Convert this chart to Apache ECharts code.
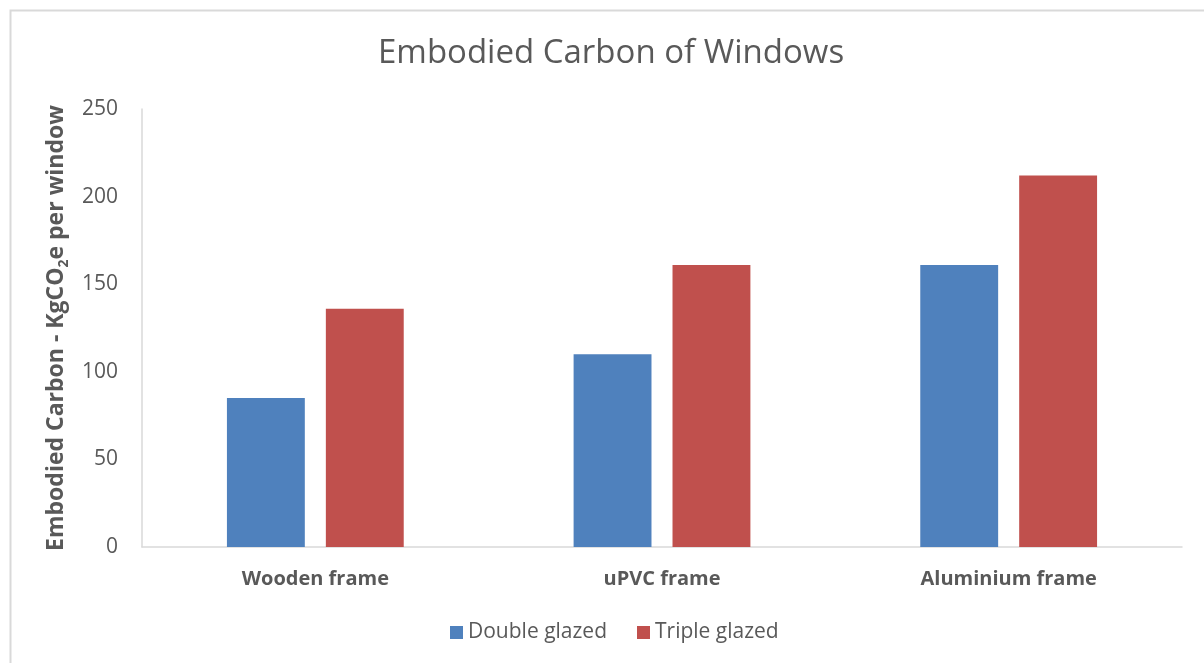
<!DOCTYPE html>
<html>
<head>
<meta charset="utf-8">
<script src="https://cdn.jsdelivr.net/npm/echarts@6/dist/echarts.min.js"></script>
<style>
html,body{margin:0;padding:0;background:#fff;}
#c{width:1204px;height:663px;}
</style>
</head>
<body>
<div id="c"></div>
<script>
var categories = ['Wooden frame', 'uPVC frame', 'Aluminium frame'];
var doubleGlazed = [85, 110, 161];
var tripleGlazed = [136, 161, 212];
var seriesNames = ['Double glazed', 'Triple glazed'];
var yTicks = { min: 0, max: 250, interval: 50 };

var FONT = '"Open Sans", sans-serif';
var TXT = '#595959';
var chart = echarts.init(document.getElementById('c'));
chart.setOption({
  animation: false,
  backgroundColor: '#fff',
  graphic: [{
    type: 'rect', left: 8, top: 8, silent: true,
    shape: { width: 1400, height: 800 },
    style: { fill: 'none', stroke: '#D9D9D9', lineWidth: 2 }
  }],
  title: {
    text: 'Embodied Carbon of Windows',
    left: 373, top: 32,
    textStyle: { fontFamily: FONT, fontSize: 33, fontWeight: 'normal', color: TXT }
  },
  legend: {
    bottom: 15, left: 445,
    itemWidth: 13, itemHeight: 13, itemGap: 30,
    icon: 'rect',
    textStyle: { fontFamily: FONT, fontSize: 21, color: TXT },
    data: seriesNames
  },
  grid: { left: 142, right: 22, top: 109, bottom: 116, containLabel: false },
  xAxis: {
    type: 'category',
    data: categories,
    axisLine: { lineStyle: { color: '#D9D9D9', width: 1.5 } },
    axisTick: { show: false },
    axisLabel: { margin: 22, fontFamily: FONT, fontSize: 20, fontWeight: 'bold', color: TXT }
  },
  yAxis: {
    type: 'value',
    min: yTicks.min, max: yTicks.max, interval: yTicks.interval,
    name: '{a|Embodied Carbon - KgCO}{s|2}{a|e per window}',
    nameLocation: 'middle',
    nameGap: 69,
    nameTextStyle: {
      rich: {
        a: { fontFamily: FONT, fontSize: 23, fontWeight: 'bold', color: TXT, lineHeight: 30, verticalAlign: 'middle' },
        s: { fontFamily: FONT, fontSize: 14, fontWeight: 'bold', color: TXT, lineHeight: 30, verticalAlign: 'bottom', padding: [14, 0, 0, 0] }
      }
    },
    axisLine: { show: true, lineStyle: { color: '#D9D9D9', width: 1.5 } },
    axisTick: { show: false },
    splitLine: { show: false },
    axisLabel: { margin: 24, fontFamily: FONT, fontSize: 21, color: TXT }
  },
  series: [
    { name: seriesNames[0], type: 'bar', data: doubleGlazed, barGap: '27%', barCategoryGap: '49%',
      itemStyle: { color: '#4F81BD' } },
    { name: seriesNames[1], type: 'bar', data: tripleGlazed, barGap: '27%', barCategoryGap: '49%',
      itemStyle: { color: '#C0504D' } }
  ]
});
</script>
</body>
</html>
